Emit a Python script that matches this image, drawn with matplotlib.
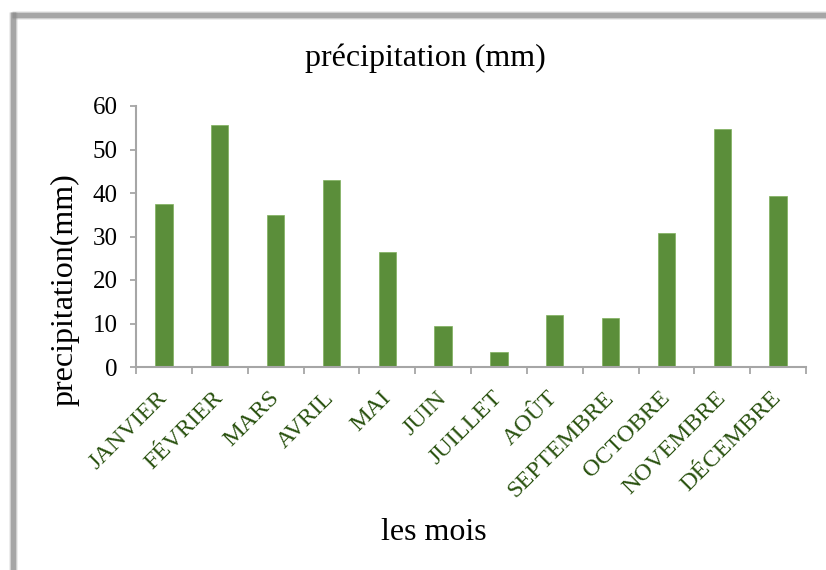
import numpy as np
import matplotlib.pyplot as plt
from matplotlib.lines import Line2D

plt.rcParams['font.family'] = ['Liberation Serif', 'DejaVu Serif']

mois = ['JANVIER', 'FÉVRIER', 'MARS', 'AVRIL', 'MAI', 'JUIN', 'JUILLET',
        'AOÛT', 'SEPTEMBRE', 'OCTOBRE', 'NOVEMBRE', 'DÉCEMBRE']
precip = [37.5, 55.7, 35.0, 43.0, 26.5, 9.4, 3.5, 12.0, 11.3, 30.8, 54.7, 39.3]

W, H = 826, 570
fig = plt.figure(figsize=(W / 100, H / 100), dpi=100)

# gray frame with soft shadow (top and left edges)
for w, a in [(9, 0.15), (7, 0.3), (5, 0.6)]:
    fig.add_artist(Line2D([12 / W, 1.0], [1 - 14.5 / H, 1 - 14.5 / H], lw=w * 0.72,
                          color='#8c8c8c', alpha=a, transform=fig.transFigure,
                          solid_capstyle='butt'))
    fig.add_artist(Line2D([12.5 / W, 12.5 / W], [1 - 12 / H, 0.0], lw=w * 0.72,
                          color='#8c8c8c', alpha=a, transform=fig.transFigure,
                          solid_capstyle='butt'))

ax = fig.add_axes([136 / W, 1 - 367 / H, (806 - 136) / W, (367 - 106) / H])
x = np.arange(len(mois))
ax.bar(x, precip, width=0.31, color='#5b8e3a', edgecolor='#7fb05c', linewidth=0.5)

ax.set_xlim(-0.5, len(mois) - 0.5)
ax.set_ylim(0, 60)
ax.set_yticks(range(0, 61, 10))
ax.set_xticks(np.arange(-0.5, len(mois), 1.0))
ax.set_xticklabels([])
ax.set_xticks(x, minor=True)
ax.set_xticklabels(mois, minor=True, rotation=45, ha='right', va='center',
                   rotation_mode='anchor', fontsize=17.5, color='#2a5210')
ax.tick_params(axis='x', which='minor', length=0, pad=20)
ax.tick_params(axis='x', which='major', length=5, color='#a6a6a6', width=1.3)
ax.tick_params(axis='y', length=4, color='#a6a6a6', width=1.3, labelsize=18, pad=9)

for s in ['top', 'right']:
    ax.spines[s].set_visible(False)
for s in ['left', 'bottom']:
    ax.spines[s].set_color('#a6a6a6')
    ax.spines[s].set_linewidth(1.5)

fig.text(425 / W, 1 - 58 / H, 'précipitation (mm)', ha='center', va='center', fontsize=23)
fig.text(65 / W, 1 - 290 / H, 'precipitation(mm)', ha='center', va='center',
         rotation=90, fontsize=23)
fig.text(434 / W, 1 - 533 / H, 'les mois', ha='center', va='center', fontsize=23)

fig.savefig('out.png', dpi=100)
